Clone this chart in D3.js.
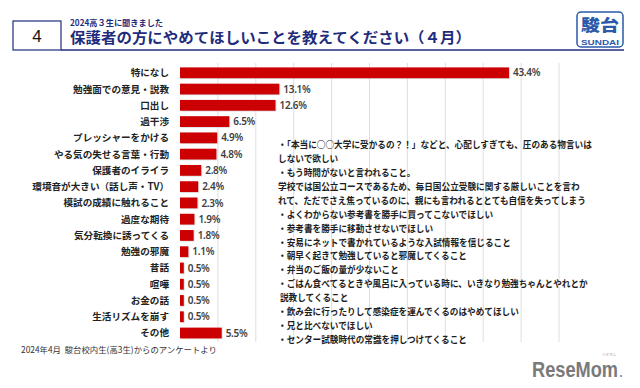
<!DOCTYPE html>
<html>
<head>
<meta charset="utf-8">
<script src="https://cdn.jsdelivr.net/npm/d3@7"></script>
<style>
  body { margin: 0; background: #fff; }
  svg { display: block; font-family: "Noto Sans CJK JP", "Noto Sans", sans-serif; }
</style>
</head>
<body>
<svg width="640" height="388"></svg>
<script>
// 項目と割合(%)
var categories = ["特になし", "勉強面での意見・説教", "口出し", "過干渉", "プレッシャーをかける",
  "やる気の失せる言葉・行動", "保護者のイライラ", "環境音が大きい（話し声・TV）", "模試の成績に触れること",
  "過度な期待", "気分転換に誘ってくる", "勉強の邪魔", "昔話", "喧嘩", "お金の話", "生活リズムを崩す", "その他"];
var values = [43.4, 13.1, 12.6, 6.5, 4.9, 4.8, 2.8, 2.4, 2.3, 1.9, 1.8, 1.1, 0.5, 0.5, 0.5, 0.5, 5.5];
var gridTicks = [5, 10, 15, 20, 25, 30, 35, 40, 45, 50];

var comments = [
  "・「本当に○○大学に受かるの？！」などと、心配しすぎても、圧のある物言いは",
  "しないで欲しい",
  "・もう時間がないと言われること。",
  "学校では国公立コースであるため、毎日国公立受験に関する厳しいことを言わ",
  "れて、ただでさえ焦っているのに、親にも言われるととても自信を失ってしまう",
  "・よくわからない参考書を勝手に買ってこないでほしい",
  "・参考書を勝手に移動させないでほしい",
  "・安易にネットで書かれているような入試情報を信じること",
  "・朝早く起きて勉強していると邪魔してくること",
  "・弁当のご飯の量が少ないこと",
  "・ごはん食べてるときや風呂に入っている時に、いきなり勉強ちゃんとやれとか",
  " 説教してくること",
  "・飲み会に行ったりして感染症を運んでくるのはやめてほしい",
  "・兄と比べないでほしい",
  "・センター試験時代の常識を押しつけてくること"
];

var navy = "#1f2c7c";
var svg = d3.select("svg");

// ---- header ----
var head = svg.append("g");
head.append("rect").attr("x", 13).attr("y", 21).attr("width", 48).attr("height", 29)
  .attr("fill", "#fff").attr("stroke", navy).attr("stroke-width", 1.2);
head.append("text").attr("x", 37).attr("y", 42).attr("text-anchor", "middle")
  .attr("font-family", "Liberation Sans, Arial, sans-serif").attr("font-size", 17).attr("fill", "#111")
  .text("4");
head.append("line").attr("x1", 61).attr("x2", 624).attr("y1", 50).attr("y2", 50)
  .attr("stroke", navy).attr("stroke-width", 1.6);
head.append("text").attr("x", 70).attr("y", 25.6).attr("font-size", 8.2).attr("font-weight", 700)
  .attr("fill", navy).text("2024高３生に聞きました");
head.append("text").attr("x", 70).attr("y", 43.3).attr("font-size", 14.6).attr("font-weight", 700)
  .attr("fill", navy).attr("textLength", 401).attr("lengthAdjust", "spacingAndGlyphs")
  .text("保護者の方にやめてほしいことを教えてください（４月）");

// SUNDAI logo
var logo = head.append("g");
logo.append("rect").attr("x", 577).attr("y", 12).attr("width", 46).attr("height", 35).attr("rx", 4)
  .attr("fill", "#fff").attr("stroke", "#2a5aa8").attr("stroke-width", 1.5);
logo.append("text").attr("x", 600).attr("y", 31).attr("text-anchor", "middle")
  .attr("font-size", 16).attr("font-weight", 900).attr("fill", "#2a5aa8")
  .attr("textLength", 38).attr("lengthAdjust", "spacingAndGlyphs").text("駿台");
logo.append("text").attr("x", 600).attr("y", 44.5).attr("text-anchor", "middle")
  .attr("font-family", "Liberation Sans, Arial, sans-serif").attr("font-size", 8).attr("font-weight", 700)
  .attr("fill", "#2a5aa8").attr("textLength", 38).attr("lengthAdjust", "spacingAndGlyphs").text("SUNDAI");

// ---- chart ----
var x = d3.scaleLinear().domain([0, 50]).range([180, 559]);
var y = d3.scalePoint().domain(categories).range([72.8, 333]);
var barH = 10.8;

var g = svg.append("g");

g.selectAll(".grid")
  .data(gridTicks)
  .enter().append("line")
    .attr("class", "grid")
    .attr("x1", function(d) { return x(d); })
    .attr("x2", function(d) { return x(d); })
    .attr("y1", 63).attr("y2", 342)
    .attr("stroke", "#dedede").attr("stroke-width", 1);

// comments block (drawn over grid, like the original text box)
var cm = svg.append("g").attr("transform", "translate(278,0) scale(0.9,1)");
cm.selectAll("text")
  .data(comments)
  .enter().append("text")
    .attr("x", 0)
    .attr("y", function(d, i) { return 148.5 + i * 13.86; })
    .attr("font-size", 9.6).attr("font-weight", 700).attr("fill", "#1e1e1e")
    .style("white-space", "pre")
    .text(function(d) { return d; });

var bar = g.selectAll(".bar")
  .data(values)
  .enter().append("g")
    .attr("class", "bar")
    .attr("transform", function(d, i) { return "translate(0," + y(categories[i]) + ")"; });

bar.append("rect")
  .attr("x", x(0) + 1)
  .attr("y", -barH / 2 + 0.8)
  .attr("width", function(d) { return x(d) - x(0); })
  .attr("height", barH)
  .attr("fill", "#b9b9b9").attr("opacity", 0.5);

bar.append("rect")
  .attr("x", x(0))
  .attr("y", -barH / 2)
  .attr("width", function(d) { return x(d) - x(0); })
  .attr("height", barH)
  .attr("fill", "#cc0000");

bar.append("text")
  .attr("x", function(d) { return x(d) + 4; })
  .attr("dy", "0.36em")
  .attr("font-family", "Noto Sans, sans-serif")
  .attr("font-size", 10).attr("font-weight", 600).attr("fill", "#404040")
  .attr("letter-spacing", "-0.3")
  .text(function(d) { return d.toFixed(1) + "%"; });

g.selectAll(".cat")
  .data(categories)
  .enter().append("text")
    .attr("class", "cat")
    .attr("x", 169)
    .attr("y", function(d) { return y(d); })
    .attr("dy", "0.36em")
    .attr("text-anchor", "end")
    .attr("font-size", 9.6).attr("font-weight", 700).attr("fill", "#222")
    .text(function(d) { return d; });

// footnote
svg.append("text").attr("x", 21).attr("y", 353).attr("font-size", 8.4).attr("fill", "#333")
  .style("white-space", "pre")
  .text("2024年4月  駿台校内生(高3生)からのアンケートより");

// ReseMom mark
svg.append("text").attr("x", 532).attr("y", 377)
  .attr("font-family", "Liberation Sans, Arial, sans-serif").attr("font-size", 22).attr("font-weight", 700)
  .attr("fill", "#7a7a7a").attr("textLength", 86).attr("lengthAdjust", "spacingAndGlyphs")
  .text("ReseMom");
svg.append("text").attr("x", 609).attr("y", 356).attr("text-anchor", "middle")
  .attr("font-size", 3.5).attr("fill", "#999").text("リセマム");
svg.append("circle").attr("cx", 621).attr("cy", 376).attr("r", 1).attr("fill", "#7a7a7a");
</script>
</body>
</html>
